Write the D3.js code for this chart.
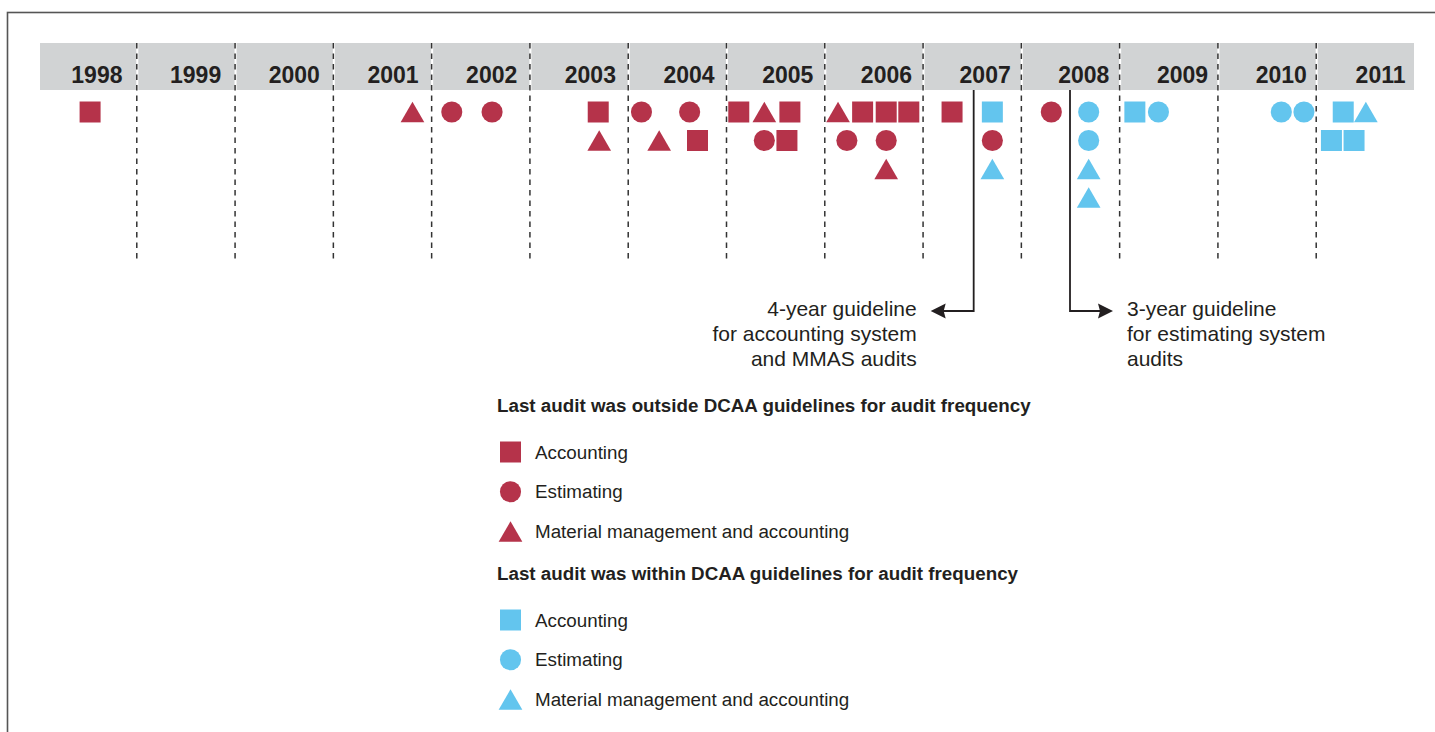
<!DOCTYPE html>
<html lang="en">

<head>
    <meta charset="UTF-8">
    <title>DCAA audit timeline</title>

    <script src="https://d3js.org/d3.v7.min.js"></script>

    <style>
        body {
            margin: 0;
            background: #fff;
        }

        svg text {
            font-family: "Liberation Sans", Arial, sans-serif;
            fill: #231f20;
        }

        .yearLabel {
            font-size: 23px;
            font-weight: bold;
        }

        .noteText {
            font-size: 21px;
        }

        .legendTitle {
            font-size: 18.8px;
            font-weight: bold;
        }

        .legendText {
            font-size: 18.8px;
        }
    </style>

</head>

<body>
    <svg width="1435" height="732"></svg>

    <script>
        // year columns
        const years = [1998, 1999, 2000, 2001, 2002, 2003, 2004, 2005, 2006, 2007, 2008, 2009, 2010, 2011];

        // each marker: [year, position within year (0-1), stack row, system, status]
        const markers = [
            [1998, 0.53, 0, "square", "outside"],
            [2001, 0.81, 0, "triangle", "outside"],
            [2002, 0.21, 0, "circle", "outside"],
            [2002, 0.62, 0, "circle", "outside"],
            [2003, 0.70, 0, "square", "outside"],
            [2003, 0.71, 1, "triangle", "outside"],
            [2004, 0.14, 0, "circle", "outside"],
            [2004, 0.63, 0, "circle", "outside"],
            [2004, 0.32, 1, "triangle", "outside"],
            [2004, 0.71, 1, "square", "outside"],
            [2005, 0.13, 0, "square", "outside"],
            [2005, 0.39, 0, "triangle", "outside"],
            [2005, 0.65, 0, "square", "outside"],
            [2005, 0.39, 1, "circle", "outside"],
            [2005, 0.62, 1, "square", "outside"],
            [2006, 0.14, 0, "triangle", "outside"],
            [2006, 0.39, 0, "square", "outside"],
            [2006, 0.63, 0, "square", "outside"],
            [2006, 0.86, 0, "square", "outside"],
            [2006, 0.23, 1, "circle", "outside"],
            [2006, 0.63, 1, "circle", "outside"],
            [2006, 0.63, 2, "triangle", "outside"],
            [2007, 0.30, 0, "square", "outside"],
            [2007, 0.71, 0, "square", "within"],
            [2007, 0.71, 1, "circle", "outside"],
            [2007, 0.71, 2, "triangle", "within"],
            [2008, 0.31, 0, "circle", "outside"],
            [2008, 0.69, 0, "circle", "within"],
            [2008, 0.69, 1, "circle", "within"],
            [2008, 0.69, 2, "triangle", "within"],
            [2008, 0.69, 3, "triangle", "within"],
            [2009, 0.16, 0, "square", "within"],
            [2009, 0.40, 0, "circle", "within"],
            [2010, 0.65, 0, "circle", "within"],
            [2010, 0.88, 0, "circle", "within"],
            [2011, 0.28, 0, "square", "within"],
            [2011, 0.51, 0, "triangle", "within"],
            [2011, 0.16, 1, "square", "within"],
            [2011, 0.39, 1, "square", "within"]
        ];

        // guideline call-outs: position on the time axis, direction, text lines
        const guidelineYears = [2007.52, 2008.5];
        const guidelineDirs = ["left", "right"];
        const guidelineLines = [
            ["4-year guideline", "for accounting system", "and MMAS audits"],
            ["3-year guideline", "for estimating system", "audits"]
        ];

        const statusKeys = ["outside", "within"];
        const statusTitles = [
            "Last audit was outside DCAA guidelines for audit frequency",
            "Last audit was within DCAA guidelines for audit frequency"
        ];
        const systemKeys = ["square", "circle", "triangle"];
        const systemNames = ["Accounting", "Estimating", "Material management and accounting"];

        const svg = d3.select("svg");

        const x = d3.scaleLinear().domain([1998, 2012]).range([38, 1414]);
        // year labels sit on a slightly wider pitch than the columns
        const labelX = d3.scaleLinear().domain([1998, 2011]).range([122.5, 1405.5]);
        const y = d3.scaleLinear().domain([0, 1]).range([112, 140.5]);
        const color = d3.scaleOrdinal().domain(statusKeys).range(["#b5334a", "#63c5ee"]);
        const shape = d3.scaleOrdinal().domain(systemKeys)
            .range([d3.symbolSquare, d3.symbolCircle, d3.symbolTriangle]);
        const shapeSize = d3.scaleOrdinal().domain(systemKeys).range([441, 350, 243]);
        // d3 triangle is centred on its centroid, move it so its box sits like the others
        const shapeShift = d3.scaleOrdinal().domain(systemKeys).range([0, 0, 3.4]);

        function symbolPath(type) {
            return d3.symbol().type(shape(type)).size(shapeSize(type))();
        }

        // frame
        svg.append("rect")
            .attr("x", 7.5).attr("y", 12.5)
            .attr("width", 1500).attr("height", 800)
            .attr("fill", "none")
            .attr("stroke", "#555")
            .attr("stroke-width", 1.6);

        // year band
        const step = x(1999) - x(1998);
        svg.append("g").selectAll("rect")
            .data(years)
            .enter()
            .append("rect")
            .attr("x", d => x(d) + 2)
            .attr("y", 43)
            .attr("width", step - 2)
            .attr("height", 47)
            .attr("fill", "#d1d3d4");

        svg.append("g").selectAll("text")
            .data(years)
            .enter()
            .append("text")
            .attr("class", "yearLabel")
            .attr("x", d => labelX(d))
            .attr("y", 83)
            .attr("text-anchor", "end")
            .text(d => d);

        // dashed separators
        svg.append("g").selectAll("line")
            .data(years.slice(1))
            .enter()
            .append("line")
            .attr("x1", d => x(d) + 0.5).attr("x2", d => x(d) + 0.5)
            .attr("y1", 43).attr("y2", 259)
            .attr("stroke", "#333")
            .attr("stroke-width", 1.5)
            .attr("stroke-dasharray", "5.5,5");

        // markers
        svg.append("g").selectAll("path")
            .data(markers)
            .enter()
            .append("path")
            .attr("d", d => symbolPath(d[3]))
            .attr("transform", d => `translate(${x(d[0] + d[1])},${y(d[2]) + shapeShift(d[3])})`)
            .attr("fill", d => color(d[4]));

        // guideline call-outs
        const arrowY = 311;
        guidelineYears.forEach(function (g, i) {
            const gx = x(g);
            const dir = guidelineDirs[i] === "left" ? -1 : 1;
            const tip = gx + dir * 43;
            const grp = svg.append("g");
            grp.append("path")
                .attr("d", `M${gx},90V${arrowY}H${tip - dir * 10}`)
                .attr("fill", "none")
                .attr("stroke", "#231f20")
                .attr("stroke-width", 1.8);
            grp.append("path")
                .attr("d", `M${tip},${arrowY}L${tip - dir * 15},${arrowY - 7.5}L${tip - dir * 13},${arrowY}L${tip - dir * 15},${arrowY + 7.5}Z`)
                .attr("fill", "#231f20");
            grp.selectAll("text")
                .data(guidelineLines[i])
                .enter()
                .append("text")
                .attr("class", "noteText")
                .attr("x", tip + dir * 14)
                .attr("y", (d, j) => 316 + j * 25)
                .attr("text-anchor", dir < 0 ? "end" : "start")
                .text(d => d);
        });

        // legend
        const legendTitleY = [411.5, 579.5];
        const legend = svg.append("g");
        statusKeys.forEach(function (s, i) {
            const top = legendTitleY[i];
            legend.append("text")
                .attr("class", "legendTitle")
                .attr("x", 497)
                .attr("y", top)
                .text(statusTitles[i]);

            const items = legend.append("g").selectAll("g")
                .data(systemKeys)
                .enter()
                .append("g")
                .attr("transform", (d, j) => `translate(0,${top + 40.5 + j * 39.8})`);

            items.append("path")
                .attr("d", d => symbolPath(d))
                .attr("transform", d => `translate(510.5,${shapeShift(d)})`)
                .attr("fill", color(s));

            items.append("text")
                .attr("class", "legendText")
                .attr("x", 535)
                .attr("y", 6.5)
                .text((d, j) => systemNames[j]);
        });
    </script>
</body>

</html>
